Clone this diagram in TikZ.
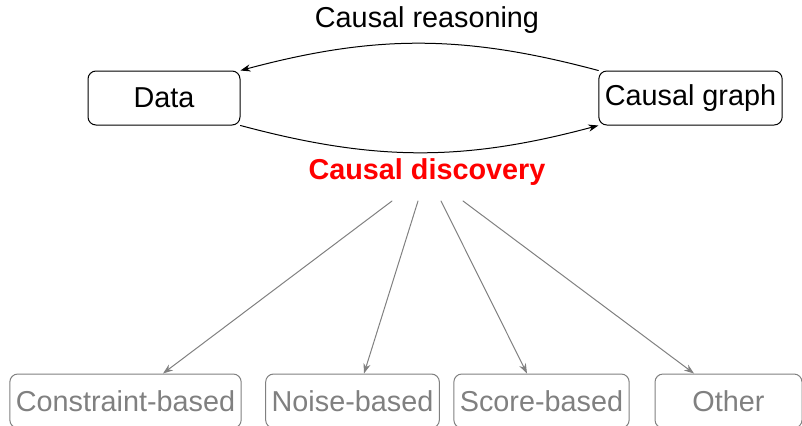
\documentclass[tikz,border=0pt]{standalone}
\usepackage{fontspec}
\setmainfont{Liberation Sans}
\usepackage{tikz}
\usetikzlibrary{arrows.meta}
\definecolor{methodgray}{RGB}{128,128,128}
\definecolor{discred}{RGB}{255,0,0}

\begin{document}
\begin{tikzpicture}[line cap=round,line join=round,>={Stealth[length=5pt,width=3.6pt]},x=0.5pt,y=0.5pt,
    every node/.style={font=\fontsize{14.4pt}{17pt}\selectfont},
    mainbox/.style={draw,rounded corners=4pt,line width=0.5pt,minimum height=27pt,inner xsep=3pt},
    methodbox/.style={mainbox,draw=methodgray,text=methodgray},
    methodarrow/.style={->,color=methodgray,line width=0.5pt}]
    \useasboundingbox (0,0) rectangle (802,425);
    % top row
    \node[mainbox,minimum width=76pt] (data) at (164,327) {Data};
    \node[mainbox] (graph) at (690.5,327) {Causal graph};
    \draw[->,line width=0.5pt] (graph.north west) to[bend right=15] (data.north east);
    \draw[->,line width=0.5pt] (data.south east) to[bend right=15] (graph.south west);
    \node (reasoning) at (427,405) {Causal reasoning};
    \node[text=discred,font=\fontsize{14.4pt}{17pt}\selectfont\bfseries] (disc) at (427,253) {Causal discovery};
    % methods
    \node[methodbox,minimum width=115.5pt] (constraint) at (125.5,24) {Constraint-based};
    \node[methodbox,minimum width=86.5pt] (noise) at (352.5,24) {Noise-based};
    \node[methodbox,minimum width=87.5pt] (score) at (541.5,24) {Score-based};
    \node[methodbox,minimum width=73.5pt] (other) at (728.5,24) {Other};
    \coordinate (d1) at (392,224);
    \coordinate (d2) at (418,224);
    \coordinate (d3) at (441,224);
    \coordinate (d4) at (463,224);
    \draw[methodarrow] (d1) -- ([xshift=18.75pt]constraint.north);
    \draw[methodarrow] (d2) -- ([xshift=5.75pt]noise.north);
    \draw[methodarrow] (d3) -- ([xshift=-7.25pt]score.north);
    \draw[methodarrow] (d4) -- ([xshift=-17.25pt]other.north);
\end{tikzpicture}
\end{document}
